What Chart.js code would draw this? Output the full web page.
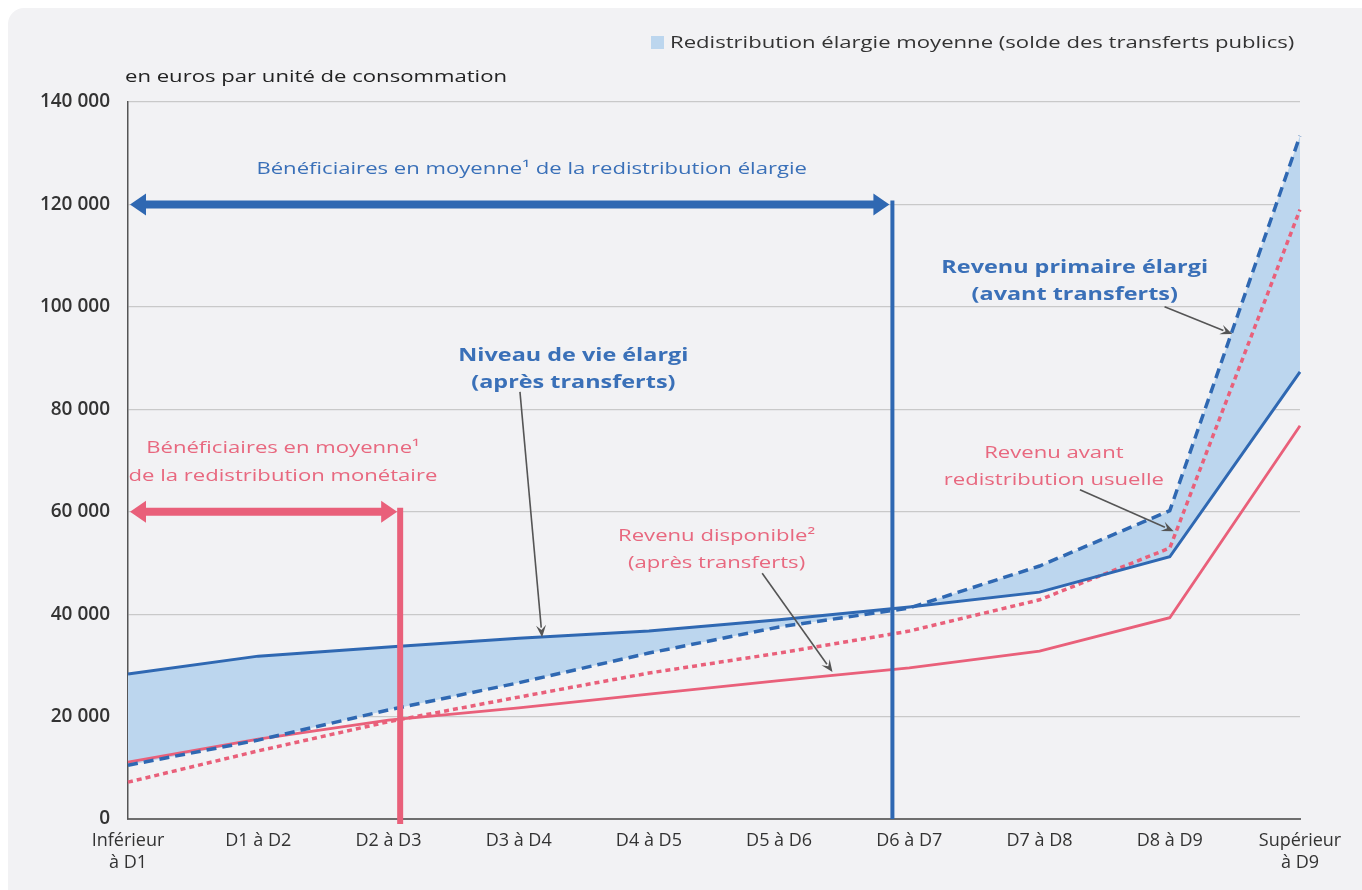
<!DOCTYPE html>
<html lang="fr">
<head>
<meta charset="utf-8">
<title>Redistribution élargie par décile</title>
<script src="https://cdn.jsdelivr.net/npm/chart.js@4.4.1/dist/chart.umd.min.js"></script>
<style>
  html, body { margin: 0; padding: 0; background: #ffffff; }
  #wrap { width: 1362px; height: 890px; }
</style>
</head>
<body>
<div id="wrap"><canvas id="chart" width="1362" height="890"></canvas></div>
<script>
// Deciles of the extended standard of living
const deciles = [
  ['Inférieur', 'à D1'], 'D1 à D2', 'D2 à D3', 'D3 à D4', 'D4 à D5',
  'D5 à D6', 'D6 à D7', 'D7 à D8', 'D8 à D9', ['Supérieur', 'à D9']
];

// en euros par unité de consommation
const niveauVieElargi = [28300, 31800, 33600, 35300, 36700, 38900, 41400, 44300, 51200, 87300];
const revenuPrimaireElargi = [10500, 15400, 21300, 26600, 32400, 37500, 41200, 49400, 60200, 133400];
const revenuAvantRedistribution = [7200, 13300, 19000, 23800, 28500, 32400, 36700, 42800, 52900, 119000];
const revenuDisponible = [11100, 15600, 19300, 21700, 24400, 27000, 29500, 32800, 39300, 76800];

const yTicks = [0, 20000, 40000, 60000, 80000, 100000, 120000, 140000];

// where the "average beneficiaries" zones stop (decile index) and arrow level
const limiteElargie = 5.87;
const limiteMonetaire = 2.09;
const niveauFlecheElargie = 120000;
const niveauFlecheMonetaire = 60000;

const BLUE = '#2f68b2';
const BLUE_TEXT = '#3a70b8';
const PINK = '#e9607a';
const PINK_TEXT = '#e8687f';
const FILL = '#bcd6ee';
const GREY = '#555555';
const FONT = '"Open Sans", "DejaVu Sans", sans-serif';
const STRETCH = 1.3; // source text is drawn wide

function fmt(v) {
  return String(v).replace(/\B(?=(\d{3})+(?!\d))/g, ' ');
}

function doubleArrow(ctx, x1, x2, y, color, thick, headLen, headHalf) {
  ctx.save();
  ctx.fillStyle = color;
  ctx.beginPath();
  ctx.moveTo(x1, y);
  ctx.lineTo(x1 + headLen, y - headHalf);
  ctx.lineTo(x1 + headLen, y - thick / 2);
  ctx.lineTo(x2 - headLen, y - thick / 2);
  ctx.lineTo(x2 - headLen, y - headHalf);
  ctx.lineTo(x2, y);
  ctx.lineTo(x2 - headLen, y + headHalf);
  ctx.lineTo(x2 - headLen, y + thick / 2);
  ctx.lineTo(x1 + headLen, y + thick / 2);
  ctx.lineTo(x1 + headLen, y + headHalf);
  ctx.closePath();
  ctx.fill();
  ctx.restore();
}

function pointer(ctx, x1, y1, x2, y2) {
  const a = Math.atan2(y2 - y1, x2 - x1);
  const len = 12, half = 5;
  ctx.save();
  ctx.strokeStyle = GREY;
  ctx.fillStyle = GREY;
  ctx.lineWidth = 1.6;
  ctx.beginPath();
  ctx.moveTo(x1, y1);
  ctx.lineTo(x2 - Math.cos(a) * len * 0.8, y2 - Math.sin(a) * len * 0.8);
  ctx.stroke();
  ctx.beginPath();
  ctx.moveTo(x2, y2);
  ctx.lineTo(x2 - Math.cos(a) * len - Math.sin(a) * half, y2 - Math.sin(a) * len + Math.cos(a) * half);
  ctx.lineTo(x2 - Math.cos(a) * len * 0.6, y2 - Math.sin(a) * len * 0.6);
  ctx.lineTo(x2 - Math.cos(a) * len + Math.sin(a) * half, y2 - Math.sin(a) * len - Math.cos(a) * half);
  ctx.closePath();
  ctx.fill();
  ctx.restore();
}

function wideText(ctx, t, x, y, align) {
  ctx.save();
  ctx.translate(x, y);
  ctx.scale(STRETCH, 1);
  ctx.textAlign = align;
  ctx.fillText(t, 0, 0);
  ctx.restore();
}

function label(ctx, lines, x, ys, color, bold) {
  ctx.save();
  ctx.fillStyle = color;
  ctx.font = bold ? '700 18px ' + FONT : '400 17px ' + FONT;
  ctx.textBaseline = 'middle';
  lines.forEach((t, i) => wideText(ctx, t, x, ys[i], 'center'));
  ctx.restore();
}

const decor = {
  id: 'decor',
  beforeDraw(chart) {
    const ctx = chart.ctx;
    ctx.save();
    ctx.fillStyle = '#f2f2f4';
    ctx.beginPath();
    ctx.roundRect(8, 8, chart.width + 20, chart.height + 20, 16);
    ctx.fill();
    ctx.restore();
  },
  afterDatasetsDraw(chart) {
    const ctx = chart.ctx;
    const xs = chart.scales.x, ys = chart.scales.y;
    const X = v => xs.getPixelForValue(v);
    const Y = v => ys.getPixelForValue(v);
    const bottom = chart.chartArea.bottom;

    // vertical limits
    ctx.save();
    ctx.strokeStyle = BLUE;
    ctx.lineWidth = 4;
    ctx.beginPath();
    ctx.moveTo(X(limiteElargie), Y(niveauFlecheElargie) - 4);
    ctx.lineTo(X(limiteElargie), bottom);
    ctx.stroke();
    ctx.strokeStyle = PINK;
    ctx.lineWidth = 6;
    ctx.beginPath();
    ctx.moveTo(X(limiteMonetaire), Y(niveauFlecheMonetaire) - 4);
    ctx.lineTo(X(limiteMonetaire), bottom + 5);
    ctx.stroke();
    ctx.restore();

    doubleArrow(ctx, X(0) + 2, X(limiteElargie) - 3, Y(niveauFlecheElargie), BLUE, 8, 16, 11);
    doubleArrow(ctx, X(0) + 2, X(limiteMonetaire) - 3, Y(niveauFlecheMonetaire), PINK, 8, 16, 11);

    label(ctx, ['Bénéficiaires en moyenne¹ de la redistribution élargie'],
      X(3.10), [Y(126800)], BLUE_TEXT, false);
    label(ctx, ['Bénéficiaires en moyenne¹', 'de la redistribution monétaire'],
      X(1.19), [Y(72500), Y(67000)], PINK_TEXT, false);
    label(ctx, ['Niveau de vie élargi', '(après transferts)'],
      X(3.42), [Y(90400), Y(85200)], BLUE_TEXT, true);
    label(ctx, ['Revenu primaire élargi', '(avant transferts)'],
      X(7.27), [Y(107600), Y(102300)], BLUE_TEXT, true);
    label(ctx, ['Revenu disponible²', '(après transferts)'],
      X(4.52), [Y(55300), Y(50000)], PINK_TEXT, false);
    label(ctx, ['Revenu avant', 'redistribution usuelle'],
      X(7.11), [Y(71500), Y(66200)], PINK_TEXT, false);

    pointer(ctx, X(3.01), Y(83400), X(3.18), Y(35500));
    pointer(ctx, X(4.87), Y(48000), X(5.41), Y(28700));
    pointer(ctx, X(7.31), Y(64300), X(8.03), Y(56200));
    pointer(ctx, X(7.96), Y(100000), X(8.48), Y(94700));

    // unit and legend
    ctx.save();
    ctx.fillStyle = '#222';
    ctx.font = '400 17px ' + FONT;
    ctx.textBaseline = 'middle';
    wideText(ctx, 'en euros par unité de consommation', 125, 77, 'left');
    ctx.fillStyle = FILL;
    ctx.fillRect(651, 36, 13, 13);
    ctx.fillStyle = '#333';
    wideText(ctx, 'Redistribution élargie moyenne (solde des transferts publics)', 670, 43, 'left');
    ctx.restore();
  }
};

new Chart(document.getElementById('chart'), {
  type: 'line',
  data: {
    labels: deciles,
    datasets: [
      {
        label: 'Niveau de vie élargi (après transferts)',
        data: niveauVieElargi,
        borderColor: BLUE,
        borderWidth: 3,
        fill: 1,
        backgroundColor: FILL
      },
      {
        label: 'Revenu primaire élargi (avant transferts)',
        data: revenuPrimaireElargi,
        borderColor: BLUE,
        borderWidth: 3.5,
        borderDash: [10, 6],
        fill: false
      },
      {
        label: 'Revenu avant redistribution usuelle',
        data: revenuAvantRedistribution,
        borderColor: PINK,
        borderWidth: 3.5,
        borderDash: [5, 4],
        fill: false
      },
      {
        label: 'Revenu disponible (après transferts)',
        data: revenuDisponible,
        borderColor: PINK,
        borderWidth: 2.8,
        fill: false
      }
    ]
  },
  options: {
    responsive: false,
    animation: false,
    events: [],
    elements: { point: { radius: 0 }, line: { tension: 0 } },
    layout: { padding: { top: 102, right: 62, left: 0, bottom: 0 } },
    plugins: {
      legend: { display: false },
      tooltip: { enabled: false },
      filler: { drawTime: 'beforeDatasetsDraw' }
    },
    scales: {
      x: {
        offset: false,
        grid: { display: false, drawTicks: false },
        border: { color: '#6e6e6e', width: 2 },
        ticks: {
          autoSkip: false,
          maxRotation: 0,
          padding: 11,
          color: '#333',
          font: { family: FONT, size: 18 }
        },
        afterFit(scale) { scale.height = 71; }
      },
      y: {
        min: 0,
        max: 140000,
        afterBuildTicks(scale) { scale.ticks = yTicks.map(v => ({ value: v })); },
        grid: { color: '#c9c9c9', lineWidth: 1.2, drawTicks: false },
        border: { color: '#555', width: 1.5 },
        ticks: {
          padding: 18,
          color: '#333',
          font: { family: FONT, size: 19, weight: '600' },
          callback: v => fmt(v)
        },
        afterFit(scale) { scale.width = 128; }
      }
    }
  },
  plugins: [decor]
});
</script>
</body>
</html>
